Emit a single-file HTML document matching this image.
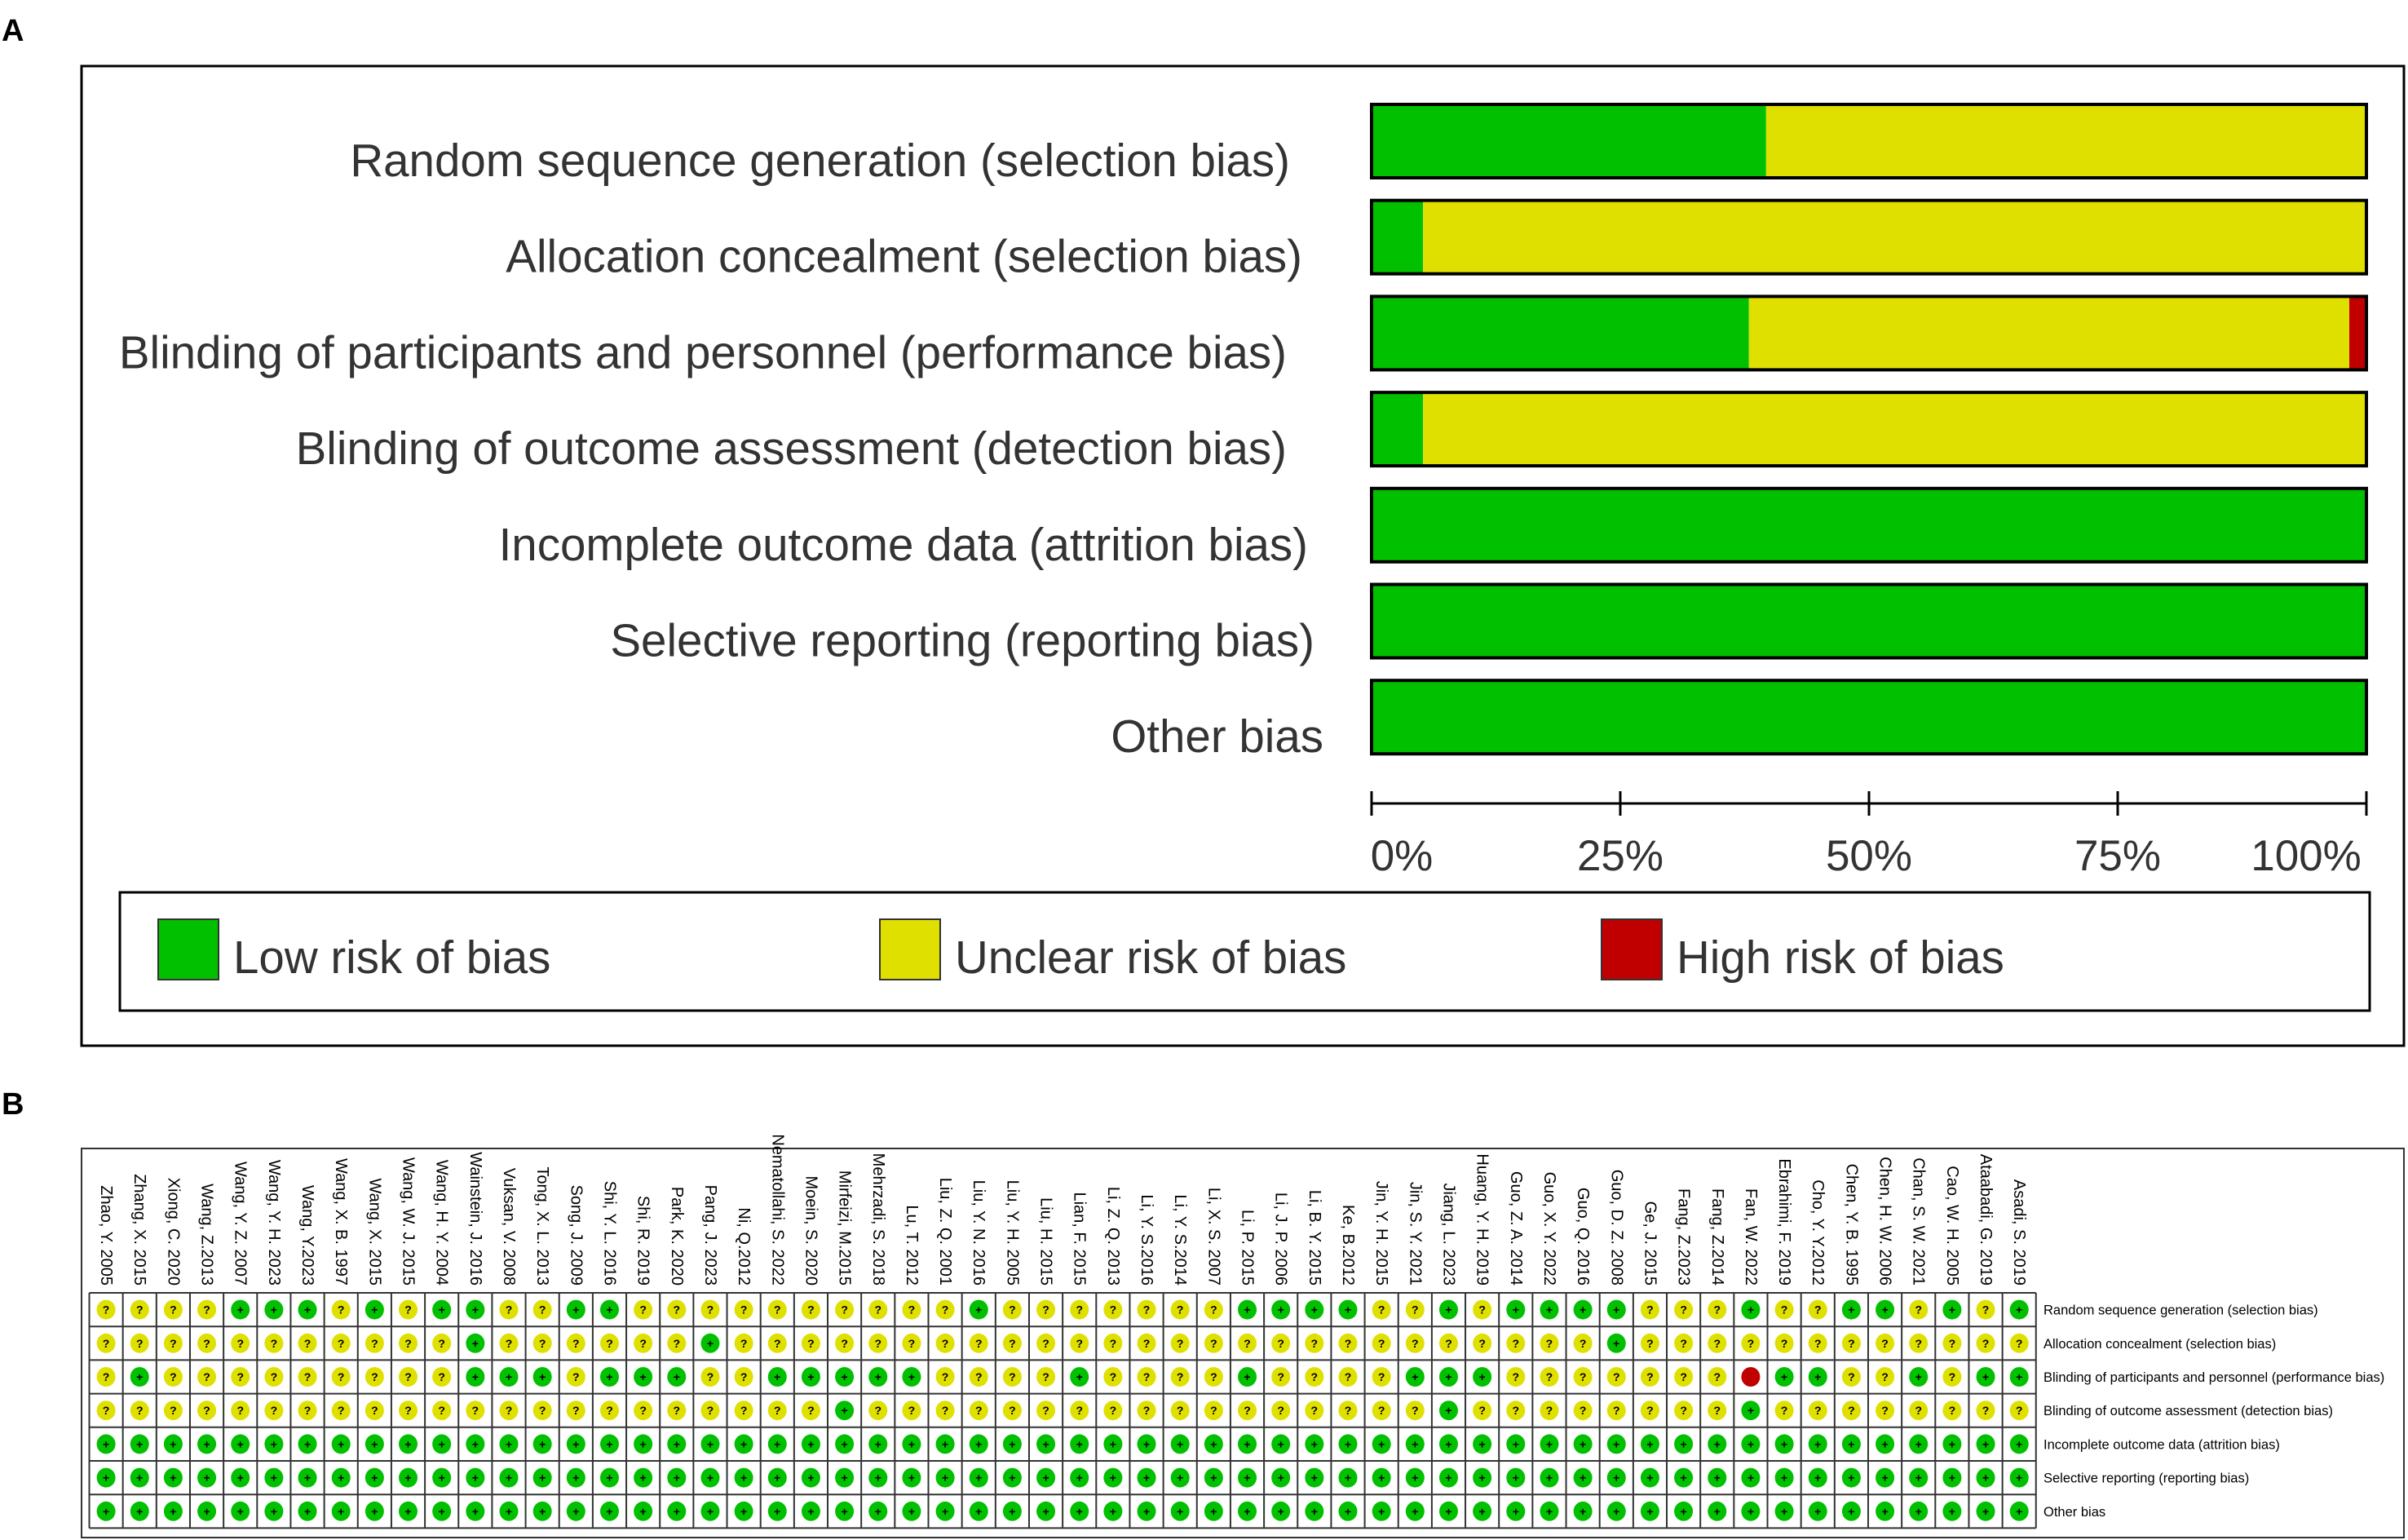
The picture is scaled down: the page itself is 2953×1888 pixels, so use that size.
<!DOCTYPE html>
<html><head><meta charset="utf-8"><style>
html,body{margin:0;padding:0;background:#fff;}
svg{display:block;font-family:"Liberation Sans",Arial,sans-serif;}
</style></head><body>
<svg id="fig" width="2953" height="1888" viewBox="0 0 2953 1888" xmlns="http://www.w3.org/2000/svg">
<text x="2" y="50" font-size="38" font-weight="bold" fill="#000">A</text>
<rect x="100" y="81" width="2848" height="1201" fill="none" stroke="#000" stroke-width="3"/>
<text x="2" y="1366" font-size="38" font-weight="bold" fill="#000">B</text>
<rect x="100" y="1408" width="2848" height="477" fill="none" stroke="#333" stroke-width="2"/>
<g id="summary"></g>
<g id="legend"></g>
<g id="grid"></g>
</svg>
<script>
const domains = ["Random sequence generation (selection bias)","Allocation concealment (selection bias)","Blinding of participants and personnel (performance bias)","Blinding of outcome assessment (detection bias)","Incomplete outcome data (attrition bias)","Selective reporting (reporting bias)","Other bias"];
const studies = ["Zhao, Y. 2005","Zhang, X. 2015","Xiong, C. 2020","Wang, Z.2013","Wang, Y. Z. 2007","Wang, Y. H. 2023","Wang, Y.2023","Wang, X. B. 1997","Wang, X. 2015","Wang, W. J. 2015","Wang, H. Y. 2004","Wainstein, J. 2016","Vuksan, V. 2008","Tong, X. L. 2013","Song, J. 2009","Shi, Y. L. 2016","Shi, R. 2019","Park, K. 2020","Pang, J. 2023","Ni, Q.2012","Nematollahi, S. 2022","Moein, S. 2020","Mirfeizi, M.2015","Mehrzadi, S. 2018","Lu, T. 2012","Liu, Z. Q. 2001","Liu, Y. N. 2016","Liu, Y. H. 2005","Liu, H. 2015","Lian, F. 2015","Li, Z. Q. 2013","Li, Y. S.2016","Li, Y. S.2014","Li, X. S. 2007","Li, P. 2015","Li, J. P. 2006","Li, B. Y. 2015","Ke, B.2012","Jin, Y. H. 2015","Jin, S. Y. 2021","Jiang, L. 2023","Huang, Y. H. 2019","Guo, Z. A. 2014","Guo, X. Y. 2022","Guo, Q. 2016","Guo, D. Z. 2008","Ge, J. 2015","Fang, Z.2023","Fang, Z.2014","Fan, W. 2022","Ebrahimi, F. 2019","Cho, Y. Y.2012","Chen, Y. B. 1995","Chen, H. W. 2006","Chan, S. W. 2021","Cao, W. H. 2005","Ataabadi, G. 2019","Asadi, S. 2019"];
// judgements per domain: + low, ? unclear, - high
const judgements = [
 "????+++?+?++??++????" + "??????+???????++++??" + "+?++++???+??++?+?+",
 "???????????+??????+?" + "????????????????????" + "?????+????????????",
 "?+?????????+++?+++??" + "+++++????+????+????+" + "++???????-++??+?++",
 "????????????????????" + "??+?????????????????" + "+????????+????????",
 "++++++++++++++++++++" + "++++++++++++++++++++" + "++++++++++++++++++",
 "++++++++++++++++++++" + "++++++++++++++++++++" + "++++++++++++++++++",
 "++++++++++++++++++++" + "++++++++++++++++++++" + "++++++++++++++++++"
];
const tickValues = [0,25,50,75,100];
const tickLabels = ["0%","25%","50%","75%","100%"];
const legendLabels = ["Low risk of bias","Unclear risk of bias","High risk of bias"];

const NS="http://www.w3.org/2000/svg";
const COL={"+":"#00c000","?":"#e0e000","-":"#c00000"};
function mk(tag,attrs,parent,text){const e=document.createElementNS(NS,tag);for(const k in attrs)e.setAttribute(k,attrs[k]);if(text!==undefined)e.textContent=text;parent.appendChild(e);return e;}

// Panel A
const X0=1682, X1=2902;
const xScale=p=>X0+(X1-X0)*p/100;
const barTop=i=>128+i*117.7, barH=90;
const labelRight=[1582,1597,1578,1578,1604,1612,1623];
const sg=document.getElementById('summary');
domains.forEach((d,i)=>{
  const y=barTop(i);
  const s=judgements[i];const n=s.length;
  const lo=[...s].filter(c=>c==='+').length/n*100;
  const un=[...s].filter(c=>c==='?').length/n*100;
  const hi=[...s].filter(c=>c==='-').length/n*100;
  let acc=0;
  [["+",lo,"low"],["?",un,"unclear"],["-",hi,"high"]].forEach(([k,v,nm])=>{
    if(v<=0)return;
    const r=mk('rect',{x:xScale(acc),y:y,width:xScale(acc+v)-xScale(acc),height:barH,fill:COL[k]},sg);
    
    
    acc+=v;
  });
  const b=mk('rect',{x:X0,y:y,width:X1-X0,height:barH,fill:"none",stroke:"#000","stroke-width":4},sg);
  
  
  const t=mk('text',{x:labelRight[i],y:y+barH/2+43,"text-anchor":"end","font-size":56.5,fill:"#333"},sg,d);
  
  
});
const ax=mk('line',{x1:X0,x2:X1,y1:985,y2:985,stroke:"#000","stroke-width":3},sg);


tickValues.forEach((v,i)=>{
  const x=xScale(v);
  const tk=mk('line',{x1:x,x2:x,y1:970,y2:1000,stroke:"#000","stroke-width":3},sg);
  
  
  let lx=x; if(i===0)lx=x+37; if(i===tickValues.length-1)lx=x-74;
  const tl=mk('text',{x:lx,y:1067,"text-anchor":"middle","font-size":53,fill:"#333"},sg,tickLabels[i]);
  
  
});

// legend
const lg=document.getElementById('legend');
const lb=mk('rect',{x:147,y:1094,width:2759,height:145,fill:"none",stroke:"#000","stroke-width":3},lg);


const swX=[194,1079,1964];
["+","?","-"].forEach((k,i)=>{
  const sw=mk('rect',{x:swX[i],y:1127,width:74,height:74,fill:COL[k],stroke:"#333","stroke-width":2},lg);
  
  
  const tx=mk('text',{x:swX[i]+92,y:1193,"font-size":56.5,fill:"#333"},lg,legendLabels[i]);
  
  
});

// Panel B grid
const gg=document.getElementById('grid');
const GL=109.5, CW=41.16, GT=1585, RH=41.2;
const nC=studies.length, nR=domains.length;
const cx=j=>GL+CW*(j+0.5), cy=i=>GT+RH*(i+0.5);
for(let j=0;j<=nC;j++){const l=mk('line',{x1:GL+CW*j,x2:GL+CW*j,y1:GT,y2:GT+RH*nR,stroke:"#333","stroke-width":2},gg);}
for(let i=0;i<=nR;i++){const l=mk('line',{x1:GL,x2:GL+CW*nC,y1:GT+RH*i,y2:GT+RH*i,stroke:"#333","stroke-width":2},gg);}
studies.forEach((s,j)=>{
  const t=mk('text',{x:0,y:0,transform:`translate(${cx(j)},${GT-9}) rotate(90)`,"text-anchor":"end","dominant-baseline":"central","font-size":20,fill:"#000"},gg,s);
  
  
});
domains.forEach((d,i)=>{
  const t=mk('text',{x:2506,y:cy(i)+6,"font-size":16.5,fill:"#000"},gg,d);
  
  
  [...judgements[i]].forEach((k,j)=>{
    const c=mk('ellipse',{cx:cx(j),cy:cy(i),rx:11.5,ry:12,fill:COL[k]},gg);
    
    
    const sym=k==='-'?'':k;
    if(sym){const st=mk('text',{x:cx(j),y:cy(i)+5,"text-anchor":"middle","font-size":14,"font-weight":"bold",fill:"#000"},gg,sym);
      
      }
  });
});
</script>
</body></html>
